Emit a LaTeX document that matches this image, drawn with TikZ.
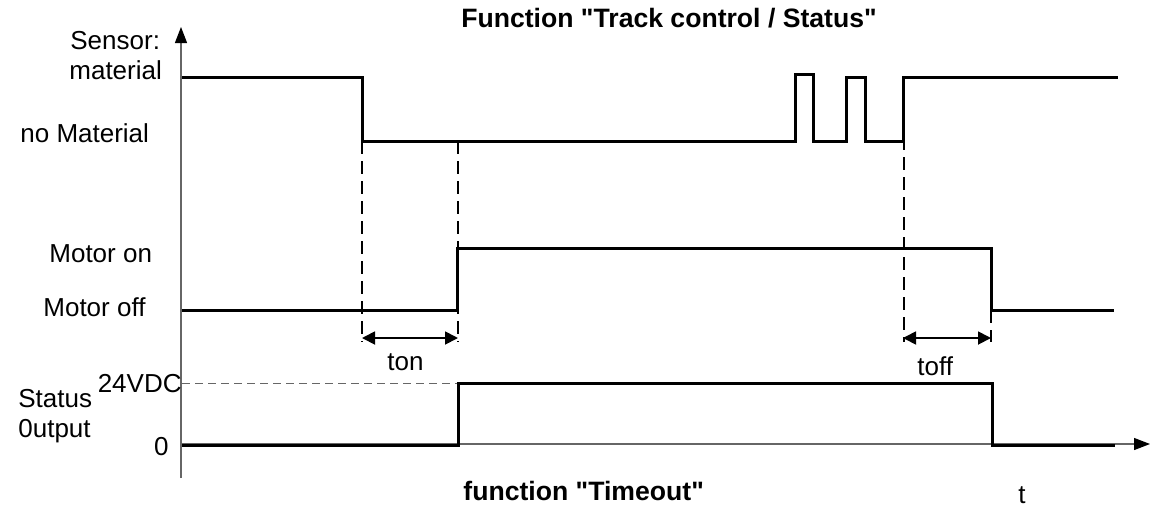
\documentclass[tikz,border=0pt]{standalone}
\usepackage{fontspec}
\setmainfont{Liberation Sans}[Ligatures=TeXOff]
\usetikzlibrary{arrows.meta}
\begin{document}
\begin{tikzpicture}[x=0.5pt,y=-0.5pt,
  lbl/.style={inner sep=0pt,font=\fontsize{13}{15}\selectfont},
  ttl/.style={inner sep=0pt,font=\fontsize{13.3}{15}\selectfont\bfseries},
  signal/.style={line width=1.5pt,line join=miter},
  axisline/.style={line width=0.6pt,draw=black!60},
  guide/.style={line width=0.6pt,dash pattern=on 6.5pt off 3.5pt},
  levelguide/.style={line width=0.5pt,draw=black!60,dash pattern=on 4pt off 2.5pt},
  tip/.style={-{Triangle[length=8pt,width=6pt,color=black]}},
  dimarrow/.style={line width=0.9pt,{Triangle[length=6.5pt,width=6.5pt]}-{Triangle[length=6.5pt,width=6.5pt]}}]
\useasboundingbox (0,0) rectangle (1160,509);
% axes
\coordinate (origin) at (181,444);
\coordinate (ybot) at (181,478);
\coordinate (ytop) at (181,27);
\coordinate (tend) at (1150,444);
\draw[axisline,tip] (ybot) -- (ytop);
\draw[axisline,tip] (origin) -- (tend);
% sensor signal
\draw[signal] (182,77) -- (362,77) -- (362,141) -- (795,141) -- (795,74) -- (813,74) -- (813,141)
  -- (846,141) -- (846,77) -- (865,77) -- (865,141) -- (903,141) -- (903,77) -- (1118,77);
% motor signal
\draw[signal] (182,310) -- (457,310) -- (457,248) -- (991,248) -- (991,310) -- (1114,310);
% status signal
\draw[levelguide] (182,383) -- (458,383);
\draw[signal] (182,445) -- (458,445) -- (458,383) -- (992,383) -- (992,445) -- (1115,445);
% guides
\coordinate (g1a) at (362,141); \coordinate (g1b) at (362,342);
\coordinate (g2a) at (458,141); \coordinate (g2b) at (458,342);
\coordinate (g3a) at (904,97);  \coordinate (g3b) at (904,342);
\coordinate (g4a) at (991,310); \coordinate (g4b) at (991,342);
\draw[guide] (g1a) -- (g1b);
\draw[guide] (g2a) -- (g2b);
\draw[guide] (g3a) -- (g3b);
\draw[guide] (g4a) -- (g4b);
% dimension arrows
\coordinate (on1) at (362,338); \coordinate (on2) at (458,338);
\coordinate (off1) at (903,338); \coordinate (off2) at (991,338);
\draw[dimarrow] (on1) -- (on2);
\draw[dimarrow] (off1) -- (off2);
% labels
\node[lbl,anchor=base west] (sensor) at (70,49) {Sensor:};
\node[lbl,anchor=base west] (mat) at (69,79) {material};
\node[lbl,anchor=base west] (nomat) at (20,142) {no Material};
\node[lbl,anchor=base west] (mon) at (49,262) {Motor on};
\node[lbl,anchor=base west] (moff) at (43,316) {Motor off};
\node[lbl,anchor=base west] (ton) at (387,370) {ton};
\node[lbl,anchor=base west] (toff) at (917,375) {toff};
\node[lbl,anchor=base west] (status) at (18,407) {Status};
\node[lbl,anchor=base west] (output) at (18,437) {0utput};
\node[lbl,anchor=base east] (v24) at (182,392) {24VDC};
\node[lbl,anchor=base east] (zero) at (169,455) {0};
\node[lbl,anchor=base] (t) at (1022,503) {t};
\node[ttl,anchor=base] (title) at (669,27) {Function "Track control / Status"};
\node[ttl,anchor=base west] (timeout) at (463,500) {function "Timeout"};
\end{tikzpicture}
\end{document}
